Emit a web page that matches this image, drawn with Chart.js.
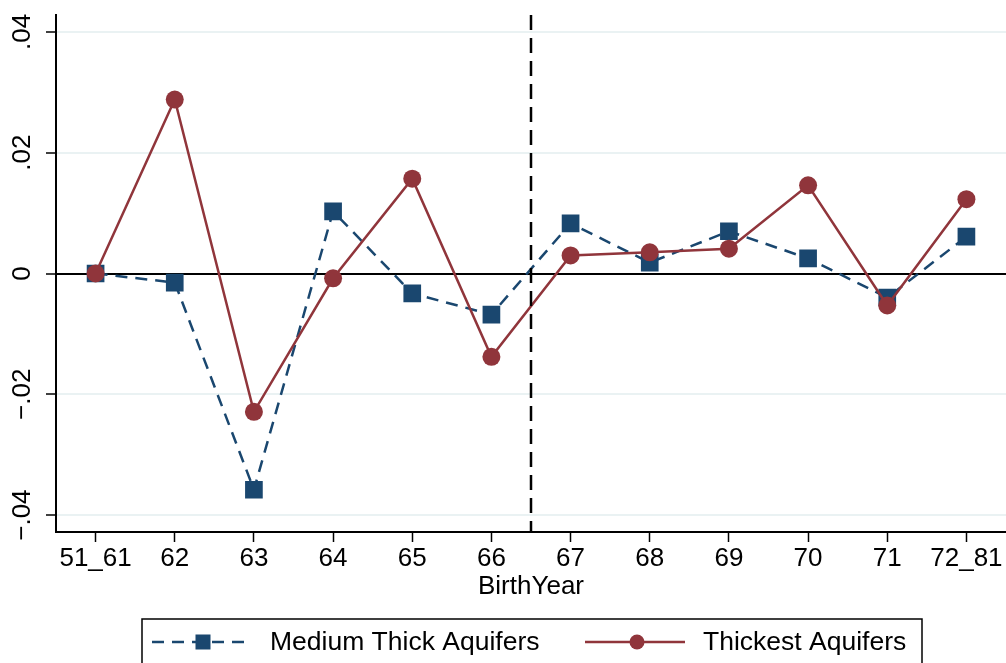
<!DOCTYPE html>
<html>
<head>
<meta charset="utf-8">
<script src="https://cdn.jsdelivr.net/npm/chart.js@4"></script>
<style>
  html, body { margin: 0; padding: 0; background: #fff; }
  #wrap { width: 1006px; height: 663px; }
</style>
</head>
<body>
<div id="wrap"><canvas id="mychart" width="1006" height="663"></canvas></div>
<script>
'use strict'

// カテゴリ（出生年）
const birthYears = ['51_61', '62', '63', '64', '65', '66', '67', '68', '69', '70', '71', '72_81'];
// 系列の値
const mediumThick = [0, -0.0015, -0.0358, 0.0103, -0.0033, -0.0068, 0.0083, 0.0018, 0.0070, 0.0025, -0.0040, 0.0061];
const thickest = [0, 0.0288, -0.0229, -0.0008, 0.0157, -0.0138, 0.0030, 0.0035, 0.0041, 0.0146, -0.0053, 0.0123];
// y軸の目盛り
const yTickValues = [-0.04, -0.02, 0, 0.02, 0.04];
const yTickLabels = ['\u2212.04', '\u2212.02', '0', '.02', '.04'];
// 区切り線の位置（66と67の間）
const cutoffIndex = 5.5;

const navy = '#1a476f';
const maroon = '#90353b';
const font = '"Liberation Sans", Arial, Helvetica, sans-serif';

// 背景・区切り線・回転ラベル・タイトル・凡例を描くプラグイン
const stataExtras = {
  id: 'stataExtras',
  beforeDraw(chart) {
    const c = chart.ctx;
    c.save();
    c.fillStyle = '#fff';
    c.fillRect(0, 0, chart.width, chart.height);
    c.restore();
  },
  afterDatasetsDraw(chart) {
    const c = chart.ctx;
    const x = chart.scales.x.getPixelForValue(cutoffIndex);
    const area = chart.chartArea;
    c.save();
    c.strokeStyle = '#000';
    c.lineWidth = 2.5;
    c.setLineDash([15, 8]);
    c.beginPath();
    c.moveTo(x, area.top);
    c.lineTo(x, area.bottom);
    c.stroke();
    c.restore();
  },
  afterDraw(chart) {
    const c = chart.ctx;
    const y = chart.scales.y;
    const area = chart.chartArea;

    // y軸ラベル（縦書き）
    c.save();
    c.fillStyle = '#000';
    c.font = '26px ' + font;
    c.textAlign = 'center';
    c.textBaseline = 'middle';
    yTickValues.forEach((v, i) => {
      c.save();
      c.translate(23, y.getPixelForValue(v));
      c.rotate(-Math.PI / 2);
      c.fillText(yTickLabels[i], 0, 0);
      c.restore();
    });

    // x軸タイトル
    c.fillText('BirthYear', (area.left + area.right) / 2, 587);
    c.restore();

    // 凡例
    c.save();
    c.strokeStyle = '#000';
    c.lineWidth = 1.5;
    c.strokeRect(142, 619, 780, 60);

    const ly = 642;
    c.lineWidth = 2.5;
    c.strokeStyle = navy;
    c.setLineDash([12, 8]);
    c.beginPath();
    c.moveTo(152, ly);
    c.lineTo(252, ly);
    c.stroke();
    c.setLineDash([]);
    c.fillStyle = navy;
    c.fillRect(203 - 7.5, ly - 7.5, 15, 15);

    c.strokeStyle = maroon;
    c.beginPath();
    c.moveTo(585, ly);
    c.lineTo(685, ly);
    c.stroke();
    c.fillStyle = maroon;
    c.beginPath();
    c.arc(637, ly, 7.5, 0, Math.PI * 2);
    c.fill();

    c.fillStyle = '#000';
    c.font = '26.5px ' + font;
    c.textAlign = 'left';
    c.textBaseline = 'middle';
    c.fillText(chart.data.datasets[0].label, 270, ly + 1);
    c.fillText(chart.data.datasets[1].label, 703, ly + 1);
    c.restore();
  }
};

const ctx = document.getElementById('mychart');

const myChart = new Chart(ctx, {
  type: 'line',
  data: {
    labels: birthYears,
    datasets: [{
      label: 'Medium Thick Aquifers',
      data: mediumThick,
      borderColor: navy,
      backgroundColor: navy,
      borderWidth: 2.5,
      borderDash: [12, 8],
      pointStyle: 'rect',
      pointRadius: 12.5,
      pointHoverRadius: 12.5,
      pointBorderWidth: 0,
      tension: 0,
      order: 2,
    },
    {
      label: 'Thickest Aquifers',
      data: thickest,
      borderColor: maroon,
      backgroundColor: maroon,
      borderWidth: 2.5,
      pointStyle: 'circle',
      pointRadius: 9,
      pointHoverRadius: 9,
      pointBorderWidth: 0,
      tension: 0,
      order: 1,
    },
    ],
  },
  options: {
    responsive: false,
    animation: false,
    layout: {
      autoPadding: false,
      padding: { top: 15, right: 0, bottom: 0, left: 0 },
    },
    plugins: {
      legend: { display: false },
      tooltip: { enabled: false },
    },
    scales: {
      x: {
        type: 'category',
        offset: true,
        grid: {
          drawOnChartArea: false,
          drawTicks: true,
          tickLength: 10,
          tickColor: '#000',
          tickWidth: 1.5,
        },
        border: { color: '#000', width: 2 },
        ticks: {
          color: '#000',
          font: { family: font, size: 26 },
          padding: 1,
          maxRotation: 0,
          autoSkip: false,
        },
        afterFit: (scale) => {
          scale.height = 131;
          scale.paddingLeft = 0;
          scale.paddingRight = 0;
        },
      },
      y: {
        min: -0.0428,
        max: 0.0428,
        afterBuildTicks: (scale) => {
          scale.ticks = yTickValues.map(v => ({ value: v }));
        },
        grid: {
          color: (c) => (c.tick && c.tick.value === 0 ? '#000' : '#eaf2f3'),
          lineWidth: 2,
          drawTicks: true,
          tickLength: 10,
          tickColor: '#000',
          tickWidth: 1.5,
        },
        border: { color: '#000', width: 2 },
        ticks: { display: false },
        afterFit: (scale) => {
          scale.width = 56;
          scale.paddingTop = 0;
          scale.paddingBottom = 0;
        },
      },
    },
  },
  plugins: [stataExtras],
});
</script>
</body>
</html>
